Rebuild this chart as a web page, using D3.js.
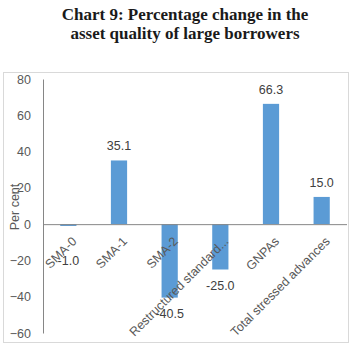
<!DOCTYPE html>
<html>
<head>
<meta charset="utf-8">
<script src="https://cdn.jsdelivr.net/npm/d3@7"></script>
<style>
  html, body { margin: 0; padding: 0; background: #fff; }
  svg { display: block; }
</style>
</head>
<body>
<div id="chart"></div>
<script>
// Chart values.
const categories = ["SMA-0", "SMA-1", "SMA-2", "Restructured standard...", "GNPAs", "Total stressed advances"];
const values = [-1.0, 35.1, -40.5, -25.0, 66.3, 15.0];
const yTicks = [-60, -40, -20, 0, 20, 40, 60, 80];
const titleLines = ["Chart 9: Percentage change in the", "asset quality of large borrowers"];

const WIDTH = 358;
const HEIGHT = 353;
const PLOT = { left: 43, right: 347, top: 79, bottom: 333 };
const LABEL_FONT = "'Liberation Sans', Arial, sans-serif";

const data = categories.map((c, i) => ({ category: c, value: values[i] }));

const svg = d3.select("#chart")
    .append("svg")
    .attr("width", WIDTH)
    .attr("height", HEIGHT);

// Title, two centred bold serif lines.
svg.append("g")
    .selectAll("text")
    .data(titleLines)
    .join("text")
    .attr("x", WIDTH / 2 + 6)
    .attr("y", (d, i) => 20 + i * 18.5)
    .attr("text-anchor", "middle")
    .style("font-family", "'Liberation Serif', 'Times New Roman', serif")
    .style("font-weight", "bold")
    .style("font-size", "17px")
    .style("fill", "#1a1a1a")
    .text(d => d);

// Light chart-area border.
svg.append("rect")
    .attr("x", 3.5)
    .attr("y", 72.5)
    .attr("width", 345)
    .attr("height", 270)
    .attr("fill", "none")
    .attr("stroke", "#d9d9d9");

const xScale = d3.scaleBand()
    .domain(categories)
    .range([PLOT.left, PLOT.right])
    .paddingInner(0.68)
    .paddingOuter(0.34);

const yScale = d3.scaleLinear()
    .domain([d3.min(yTicks), d3.max(yTicks)])
    .range([PLOT.bottom, PLOT.top]);

// Value axis: labels only, plus a plain vertical line.
const yAxis = svg.append("g")
    .attr("transform", `translate(${PLOT.left}, 0)`)
    .call(d3.axisLeft(yScale).tickValues(yTicks).tickSize(0).tickPadding(12));

yAxis.select(".domain")
    .attr("stroke", "#868686");

yAxis.selectAll("text")
    .style("font-family", LABEL_FONT)
    .style("font-size", "12.5px")
    .style("fill", "#595959");

svg.append("text")
    .attr("transform", `translate(19, 207) rotate(-90)`)
    .attr("text-anchor", "middle")
    .style("font-family", LABEL_FONT)
    .style("font-size", "12.5px")
    .style("fill", "#595959")
    .text("Per cent");

// Bars grow from zero.
svg.append("g")
    .selectAll("rect")
    .data(data)
    .join("rect")
    .attr("x", d => xScale(d.category))
    .attr("y", d => yScale(Math.max(0, d.value)))
    .attr("width", xScale.bandwidth())
    .attr("height", d => Math.abs(yScale(d.value) - yScale(0)))
    .attr("fill", "#5b9bd5");

// Zero line drawn over the bars.
svg.append("line")
    .attr("x1", PLOT.left)
    .attr("x2", PLOT.right)
    .attr("y1", yScale(0) + 0.5)
    .attr("y2", yScale(0) + 0.5)
    .attr("stroke", "#868686");

// Category labels, slanted, sitting just under the zero line.
svg.append("g")
    .selectAll("text")
    .data(data)
    .join("text")
    .attr("transform", d => `translate(${xScale(d.category) + xScale.bandwidth() / 2 + 9}, ${yScale(0) + 18}) rotate(-45)`)
    .attr("text-anchor", "end")
    .style("font-family", LABEL_FONT)
    .style("font-size", "12.5px")
    .style("fill", "#595959")
    .text(d => d.category);

// Value labels: above positive bars, below negative ones (kept clear of the slanted names).
svg.append("g")
    .selectAll("text")
    .data(data)
    .join("text")
    .attr("x", d => xScale(d.category) + xScale.bandwidth() / 2)
    .attr("y", d => d.value >= 0
        ? yScale(d.value) - 10
        : Math.max(yScale(d.value), yScale(-11.5)) + 20)
    .attr("text-anchor", "middle")
    .style("font-family", LABEL_FONT)
    .style("font-size", "12.5px")
    .style("fill", "#404040")
    .text(d => d.value.toFixed(1));
</script>
</body>
</html>
